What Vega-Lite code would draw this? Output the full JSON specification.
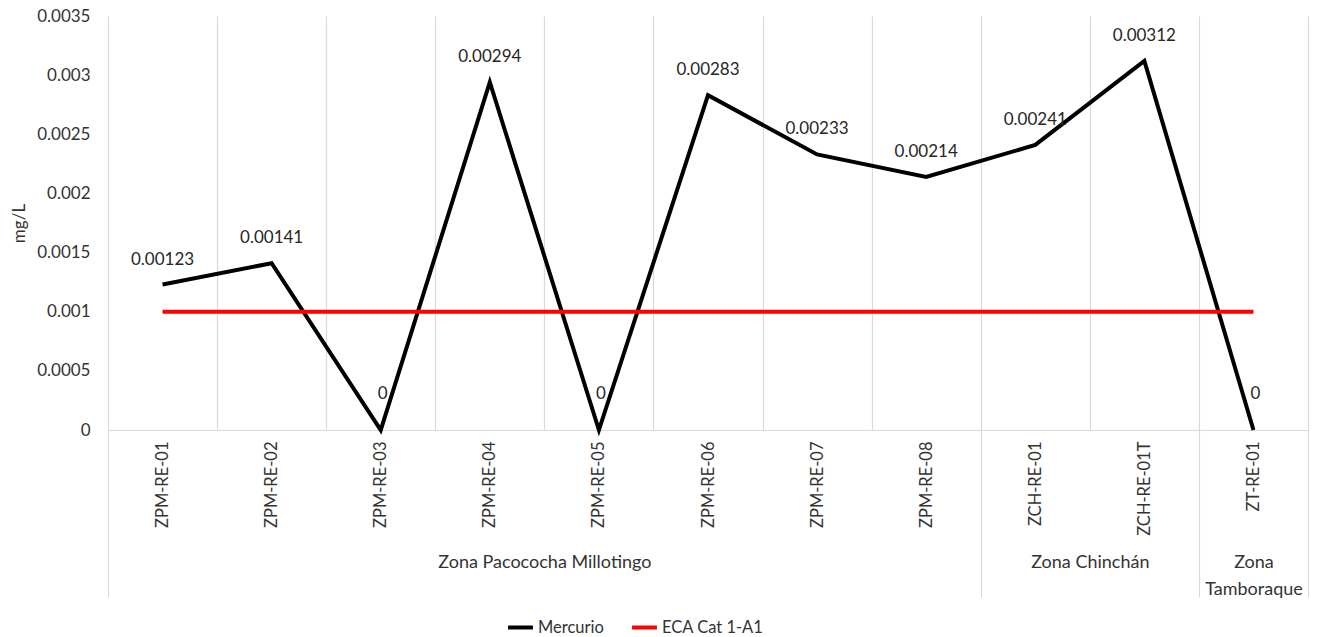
{
  "$schema": "https://vega.github.io/schema/vega-lite/v6.json",
  "width": 1200,
  "height": 414,
  "padding": {"left": 10, "top": 7, "right": 5, "bottom": 0},
  "background": "white",
  "config": {
    "view": {"stroke": null},
    "font": "Lato",
    "axis": {"labelFont": "Lato", "titleFont": "Lato", "labelFontSize": 17, "titleFontSize": 17, "labelColor": "#333333", "titleColor": "#333333", "titleFontWeight": "normal"},
    "legend": {"labelFont": "Lato", "labelFontSize": 16.5, "labelColor": "#333333"}
  },
  "datasets": {
    "main": [
      {"station": "ZPM-RE-01", "series": "Mercurio", "value": 0.00123},
      {"station": "ZPM-RE-02", "series": "Mercurio", "value": 0.00141},
      {"station": "ZPM-RE-03", "series": "Mercurio", "value": 0},
      {"station": "ZPM-RE-04", "series": "Mercurio", "value": 0.00294},
      {"station": "ZPM-RE-05", "series": "Mercurio", "value": 0},
      {"station": "ZPM-RE-06", "series": "Mercurio", "value": 0.00283},
      {"station": "ZPM-RE-07", "series": "Mercurio", "value": 0.00233},
      {"station": "ZPM-RE-08", "series": "Mercurio", "value": 0.00214},
      {"station": "ZCH-RE-01", "series": "Mercurio", "value": 0.00241},
      {"station": "ZCH-RE-01T", "series": "Mercurio", "value": 0.00312},
      {"station": "ZT-RE-01", "series": "Mercurio", "value": 0},
      {"station": "ZPM-RE-01", "series": "ECA Cat 1-A1", "value": 0.001},
      {"station": "ZPM-RE-02", "series": "ECA Cat 1-A1", "value": 0.001},
      {"station": "ZPM-RE-03", "series": "ECA Cat 1-A1", "value": 0.001},
      {"station": "ZPM-RE-04", "series": "ECA Cat 1-A1", "value": 0.001},
      {"station": "ZPM-RE-05", "series": "ECA Cat 1-A1", "value": 0.001},
      {"station": "ZPM-RE-06", "series": "ECA Cat 1-A1", "value": 0.001},
      {"station": "ZPM-RE-07", "series": "ECA Cat 1-A1", "value": 0.001},
      {"station": "ZPM-RE-08", "series": "ECA Cat 1-A1", "value": 0.001},
      {"station": "ZCH-RE-01", "series": "ECA Cat 1-A1", "value": 0.001},
      {"station": "ZCH-RE-01T", "series": "ECA Cat 1-A1", "value": 0.001},
      {"station": "ZT-RE-01", "series": "ECA Cat 1-A1", "value": 0.001}
    ],
    "zones": [
      {"zone": "Zona Pacococha Millotingo", "start": 0, "end": 8, "mid": 4},
      {"zone": "Zona Chinchán", "start": 8, "end": 10, "mid": 9},
      {"zone": "Zona Tamboraque", "start": 10, "end": 11, "mid": 10.5}
    ],
    "bounds": [{"b": 0}, {"b": 8}, {"b": 10}, {"b": 11}]
  },
  "layer": [
    {
      "data": {"name": "main"},
      "encoding": {
        "x": {
          "field": "station", "type": "ordinal", "sort": null,
          "scale": {"paddingInner": 0, "paddingOuter": 0},
          "axis": {"title": null, "labelAngle": -90, "labelFontSize": 16.5, "tickBand": "extent", "grid": true, "gridColor": "#d9d9d9", "gridWidth": 1.2, "ticks": false, "domainColor": "#d9d9d9", "domainWidth": 1.2, "labelPadding": 11}
        },
        "y": {
          "field": "value", "type": "quantitative",
          "scale": {"domain": [0, 0.0035], "nice": false},
          "axis": {"title": "mg/L", "values": [0, 0.0005, 0.001, 0.0015, 0.002, 0.0025, 0.003, 0.0035], "format": "~g", "grid": false, "ticks": false, "domain": false, "labelPadding": 18, "titlePadding": 8}
        }
      },
      "layer": [
        {
          "mark": {"type": "line", "strokeWidth": 4},
          "encoding": {
            "color": {
              "field": "series", "type": "nominal",
              "scale": {"domain": ["Mercurio", "ECA Cat 1-A1"], "range": ["#000000", "#ff0000"]},
              "legend": {"title": null, "orient": "none", "legendX": 398, "legendY": 597, "direction": "horizontal", "symbolType": "stroke", "symbolSize": 620, "symbolStrokeWidth": 4, "columnPadding": 20, "labelOffset": 3}
            }
          }
        },
        {
          "transform": [{"filter": "datum.series == 'Mercurio' && datum.value > 0"}],
          "mark": {"type": "text", "dy": -25, "fontSize": 17, "font": "Lato", "color": "#262626"},
          "encoding": {"text": {"field": "value", "type": "quantitative", "format": "~g"}}
        },
        {
          "transform": [{"filter": "datum.series == 'Mercurio' && datum.value == 0"}],
          "mark": {"type": "text", "dy": -36, "dx": 2, "fontSize": 17, "font": "Lato", "color": "#262626"},
          "encoding": {"text": {"field": "value", "type": "quantitative", "format": "~g"}}
        }
      ]
    },
    {
      "data": {"name": "zones"},
      "mark": {"type": "rule", "opacity": 0},
      "encoding": {
        "x": {
          "field": "mid", "type": "quantitative",
          "scale": {"domain": [0, 11], "nice": false, "zero": false},
          "axis": {"orient": "bottom", "title": null, "values": [4, 9, 10.5], "offset": 123, "ticks": false, "domain": false, "grid": false, "labelBaseline": "top", "labelAngle": 0, "labelFontSize": 18, "labelLimit": 500, "labelFlush": false, "labelOverlap": false, "labelBound": false, "labelPadding": 0, "labelLineHeight": 27,
            "labelExpr": "datum.value == 4 ? 'Zona Pacococha Millotingo' : datum.value == 9 ? 'Zona Chinchán' : ['Zona', 'Tamboraque']"}
        }
      }
    },
    {
      "data": {"name": "bounds"},
      "mark": {"type": "rule", "opacity": 0},
      "encoding": {
        "x": {
          "field": "b", "type": "quantitative",
          "scale": {"domain": [0, 11], "nice": false, "zero": false},
          "axis": {"orient": "bottom", "title": null, "values": [0, 8, 10, 11], "offset": 0, "ticks": true, "tickSize": 167, "tickColor": "#d9d9d9", "tickWidth": 1.2, "domain": false, "grid": false, "labels": false}
        }
      }
    }
  ],
  "resolve": {"scale": {"x": "independent"}, "axis": {"x": "independent"}}
}
